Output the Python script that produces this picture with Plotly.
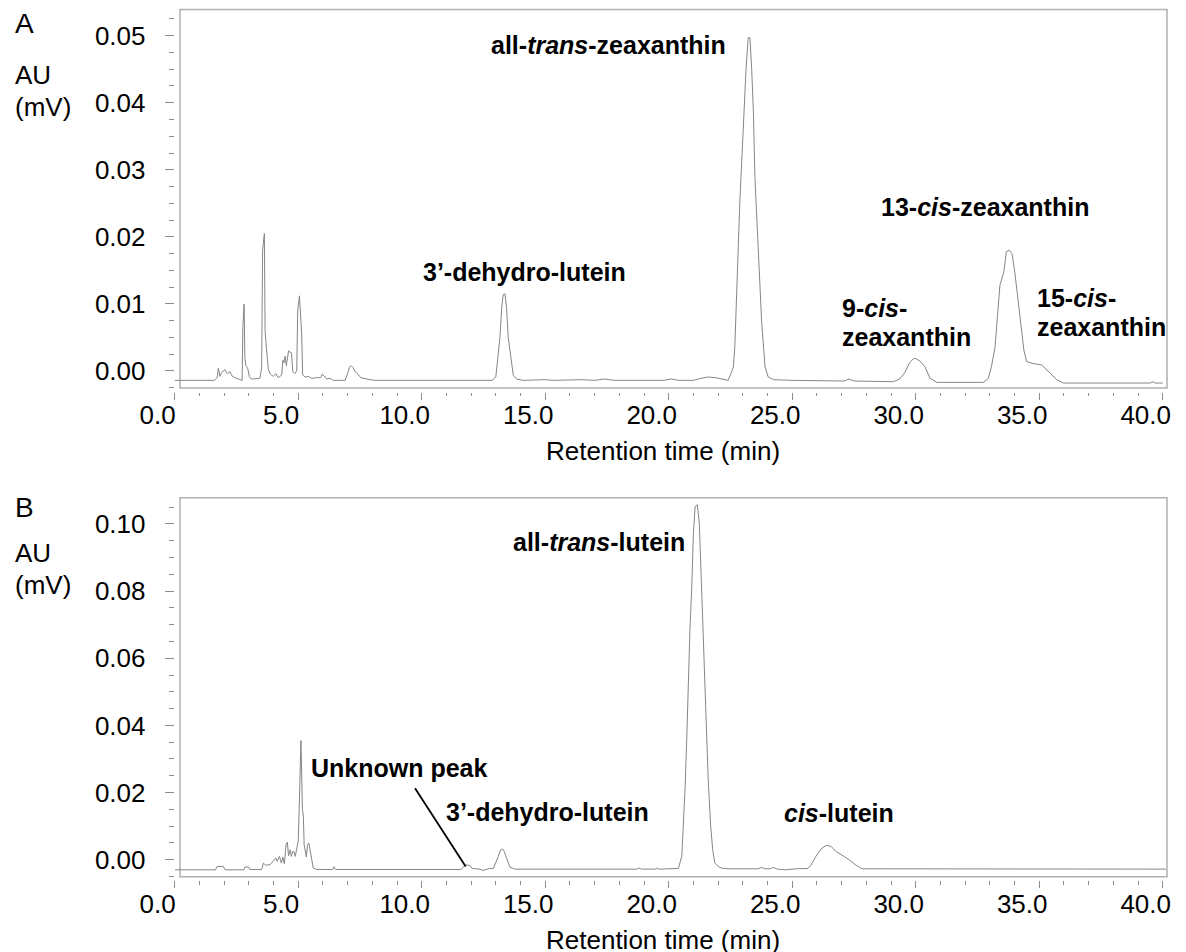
import plotly.graph_objects as go

# browser page adds an 8 px body margin; the figure is sized to fill the rest of the window
OFF = 8
W, H = 1186 - OFF, 952 - OFF

# ---------------- data ----------------
time_a = [0.0, 1.6, 1.72, 1.77, 1.83, 1.90, 2.04, 2.13, 2.24, 2.31, 2.44, 2.62, 2.73, 2.76, 2.78, 2.81,
          2.84, 2.88, 2.95, 3.02, 3.10, 3.30, 3.45, 3.52, 3.56, 3.63, 3.66, 3.70, 3.74, 3.79, 3.88,
          3.99, 4.10, 4.19, 4.33, 4.38, 4.42, 4.47, 4.52, 4.56, 4.61, 4.67, 4.73, 4.78, 4.86, 4.94,
          4.98, 5.05, 5.10, 5.14, 5.18, 5.28, 5.41, 5.55, 5.75, 5.91, 5.96, 6.04, 6.15, 6.30, 6.42,
          6.90, 7.00, 7.08, 7.14, 7.22, 7.30, 7.43, 7.53, 7.64, 7.91, 8.10, 12.85, 13.00, 13.10,
          13.17, 13.24, 13.30, 13.37, 13.44, 13.50, 13.57, 13.64, 13.71, 13.85, 14.10, 15.00, 15.30,
          16.50, 17.00, 17.40, 17.80, 19.80, 20.10, 20.40, 21.00, 21.30, 21.60, 21.90, 22.20, 22.41,
          22.62, 22.68, 22.75, 22.88, 23.02, 23.13, 23.22, 23.29, 23.36, 23.43, 23.49, 23.63, 23.76,
          23.90, 24.03, 24.24, 25.00, 27.10, 27.30, 27.50, 29.10, 29.35, 29.55, 29.75, 29.90, 29.97,
          30.17, 30.38, 30.58, 30.85, 32.74, 32.94, 33.07, 33.21, 33.30, 33.41, 33.57, 33.67, 33.79,
          33.90, 34.02, 34.11, 34.25, 34.38, 34.49, 34.76, 35.10, 35.37, 35.71, 35.98, 39.50, 39.60,
          39.70, 40.00]
au_a = [-0.0014, -0.0014, -0.0010, 0.0004, -0.0008, -0.0002, 0.0002, -0.0004, -0.0001, -0.0007,
        -0.0010, -0.0012, -0.0014, 0.0065, 0.0090, 0.0100, 0.0020, 0.0008, 0.0005, -0.0008, -0.0012,
        -0.0012, -0.0011, 0.0005, 0.0180, 0.0205, 0.0060, 0.0040, 0.0020, 0.0002, -0.0005, -0.0008,
        -0.0004, -0.0010, -0.0006, 0.0016, 0.0012, 0.0022, 0.0008, 0.0020, 0.0030, 0.0028, 0.0027,
        -0.0001, -0.0004, 0.0000, 0.0090, 0.0112, 0.0070, 0.0055, -0.0006, -0.0009, -0.0008, -0.0011,
        -0.0010, -0.0010, -0.0005, -0.0007, -0.0012, -0.0011, -0.0014, -0.0014, -0.0004, 0.0006,
        0.0008, 0.0005, -0.0001, -0.0005, -0.0010, -0.0011, -0.0013, -0.0014, -0.0014, -0.0009,
        0.0026, 0.0051, 0.0095, 0.0114, 0.0115, 0.0093, 0.0051, 0.0032, 0.0008, -0.0007, -0.0012,
        -0.0014, -0.0013, -0.0014, -0.0013, -0.0014, -0.0012, -0.0014, -0.0014, -0.0012, -0.0014,
        -0.0014, -0.0011, -0.0009, -0.0010, -0.0013, -0.0014, 0.0006, 0.0039, 0.0115, 0.0252, 0.0362,
        0.0450, 0.0497, 0.0497, 0.0450, 0.0385, 0.0290, 0.0189, 0.0075, 0.0006, -0.0009, -0.0013,
        -0.0014, -0.0015, -0.0012, -0.0015, -0.0016, -0.0012, -0.0003, 0.0012, 0.0018, 0.0019, 0.0015,
        0.0006, -0.0011, -0.0017, -0.0017, -0.0011, 0.0007, 0.0035, 0.0078, 0.0128, 0.0148, 0.0178,
        0.0180, 0.0175, 0.0145, 0.0116, 0.0076, 0.0031, 0.0014, 0.0011, 0.0009, -0.0001, -0.0013,
        -0.0018, -0.0018, -0.0016, -0.0018, -0.0018]

time_b = [0.0, 1.65, 1.72, 1.97, 2.04, 2.80, 2.85, 3.00, 3.04, 3.52, 3.59, 3.68, 3.86, 4.02, 4.10,
          4.15, 4.24, 4.32, 4.38, 4.44, 4.51, 4.56, 4.61, 4.67, 4.72, 4.78, 4.83, 4.88, 4.94, 5.00,
          5.04, 5.07, 5.11, 5.15, 5.17, 5.21, 5.24, 5.33, 5.38, 5.43, 5.48, 5.55, 5.61, 5.75, 6.40,
          6.45, 6.52, 11.60, 11.69, 11.82, 11.96, 12.05, 12.36, 12.49, 12.63, 12.74, 12.90, 13.00,
          13.10, 13.20, 13.28, 13.34, 13.41, 13.50, 13.57, 13.77, 18.70, 18.81, 18.90, 19.45, 19.52,
          19.60, 20.39, 20.53, 20.59, 20.66, 20.73, 20.79, 20.86, 20.93, 21.00, 21.07, 21.16, 21.24,
          21.31, 21.38, 21.44, 21.51, 21.60, 21.70, 21.78, 21.87, 22.01, 22.14, 22.40, 23.60, 23.76,
          23.90, 24.10, 24.24, 24.40, 24.75, 25.15, 25.63, 25.76, 25.96, 26.17, 26.37, 26.57, 26.77,
          27.04, 27.31, 27.58, 27.83, 40.13]
au_b = [-0.0030, -0.0030, -0.0020, -0.0020, -0.0030, -0.0030, -0.0021, -0.0022, -0.0029, -0.0029,
        -0.0010, -0.0016, -0.0015, 0.0000, 0.0005, -0.0005, 0.0010, -0.0010, 0.0008, -0.0012, 0.0045,
        0.0052, 0.0012, 0.0030, 0.0010, 0.0025, 0.0024, 0.0010, 0.0040, 0.0055, 0.0150, 0.0290,
        0.0355, 0.0220, 0.0150, 0.0130, 0.0045, 0.0008, 0.0045, 0.0050, 0.0030, 0.0010, -0.0025,
        -0.0029, -0.0029, -0.0021, -0.0029, -0.0029, -0.0020, -0.0015, -0.0018, -0.0026, -0.0028,
        -0.0032, -0.0029, -0.0026, -0.0026, -0.0010, 0.0010, 0.0030, 0.0032, 0.0025, 0.0010, -0.0005,
        -0.0022, -0.0028, -0.0028, -0.0025, -0.0028, -0.0028, -0.0025, -0.0028, -0.0026, 0.0010,
        0.0089, 0.0208, 0.0357, 0.0516, 0.0685, 0.0804, 0.0972, 0.1052, 0.1057, 0.1002, 0.0853,
        0.0704, 0.0585, 0.0427, 0.0238, 0.0100, 0.0030, -0.0010, -0.0020, -0.0025, -0.0027, -0.0027,
        -0.0023, -0.0027, -0.0027, -0.0023, -0.0028, -0.0030, -0.0027, -0.0026, -0.0016, 0.0010,
        0.0032, 0.0043, 0.0040, 0.0025, 0.0012, 0.0000, -0.0016, -0.0027, -0.0028]

x_ticks = [0, 5, 10, 15, 20, 25, 30, 35, 40]
x_tick_labels = ["0.0", "5.0", "10.0", "15.0", "20.0", "25.0", "30.0", "35.0", "40.0"]
ya_ticks = [0.00, 0.01, 0.02, 0.03, 0.04, 0.05]
ya_tick_labels = ["0.00", "0.01", "0.02", "0.03", "0.04", "0.05"]
yb_ticks = [0.00, 0.02, 0.04, 0.06, 0.08, 0.10]
yb_tick_labels = ["0.00", "0.02", "0.04", "0.06", "0.08", "0.10"]

# ---------------- helpers: window pixel -> paper ----------------
def px(x):
    return (x - OFF) / W

def py(y):
    return 1 - (y - OFF) / H

FONT = "Arial, Liberation Sans, sans-serif"
LINE_COL = "#858585"
TICK_COL = "#8c8c8c"
BOX_COL = "#b0b0b0"
TXT = 26

fig = go.Figure()
fig.add_trace(go.Scatter(x=time_a, y=au_a, mode="lines", xaxis="x", yaxis="y",
                         line=dict(color=LINE_COL, width=1), showlegend=False, hoverinfo="x+y"))
fig.add_trace(go.Scatter(x=time_b, y=au_b, mode="lines", xaxis="x2", yaxis="y2",
                         line=dict(color=LINE_COL, width=1), showlegend=False, hoverinfo="x+y"))

x_dom = [px(174.7), px(1167)]
x_rng = [0, (1167 - 174.7) / 24.7]

common_x = dict(
    domain=x_dom, range=x_rng, showgrid=False, zeroline=False, showline=False, automargin=False,
    tickmode="array", tickvals=x_ticks, ticktext=x_tick_labels,
    ticks="outside", ticklen=7, tickwidth=1, tickcolor=TICK_COL,
    minor=dict(dtick=1, tick0=0, ticks="outside", ticklen=3.5, tickwidth=1, tickcolor=TICK_COL, showgrid=False),
    tickfont=dict(family=FONT, size=TXT, color="black"),
    ticklabelshift=-17, ticklabelstandoff=-7,
    anchor="free",
)
common_y = dict(
    showgrid=False, zeroline=False, showline=False, automargin=False,
    ticks="outside", ticklen=9, tickwidth=1, tickcolor=TICK_COL,
    tickfont=dict(family=FONT, size=TXT, color="black"),
    ticklabelstandoff=14,
)

fig.update_layout(
    width=W, height=H, autosize=False,
    margin=dict(l=0, r=0, t=0, b=0, pad=0, autoexpand=False),
    paper_bgcolor="white", plot_bgcolor="white",
    xaxis=dict(**common_x, position=py(391.7)),
    xaxis2=dict(**common_x, position=py(880.4)),
    yaxis=dict(**common_y, anchor="x", domain=[py(388), py(9.5)], range=[-0.00254, 0.0539],
               tickmode="array", tickvals=ya_ticks, ticktext=ya_tick_labels,
               minor=dict(dtick=0.0025, tick0=0, ticks="outside", ticklen=4.5, tickwidth=1,
                          tickcolor=TICK_COL, showgrid=False)),
    yaxis2=dict(**common_y, anchor="x2", domain=[py(876.7), py(497.7)], range=[-0.00505, 0.1078],
                tickmode="array", tickvals=yb_ticks, ticktext=yb_tick_labels,
                minor=dict(dtick=0.005, tick0=0, ticks="outside", ticklen=4.5, tickwidth=1,
                           tickcolor=TICK_COL, showgrid=False)),
)

# frames around plotting areas
for (x0, y0, x1, y1) in [(180, 9.5, 1167, 388), (180, 497.7, 1167, 876.7)]:
    fig.add_shape(type="rect", xref="paper", yref="paper", x0=px(x0), x1=px(x1), y0=py(y1), y1=py(y0),
                  line=dict(color=BOX_COL, width=1.5), fillcolor="rgba(0,0,0,0)", layer="below")

# leader line for the unknown peak
fig.add_shape(type="line", xref="x2", yref="y2", x0=9.73, y0=0.0213, x1=11.78, y1=-0.0020,
              line=dict(color="black", width=1.8))

def label(text, xc, yc, size=25, xanchor="center", bold=True):
    t = f"<b>{text}</b>" if bold else text
    fig.add_annotation(x=px(xc), y=py(yc), xref="paper", yref="paper", text=t, showarrow=False,
                       xanchor=xanchor, yanchor="middle",
                       font=dict(family=FONT, size=size, color="black"))

# panel A labels
label("all-<i>trans</i>-zeaxanthin", 608.7, 45)
label("3\u2019-dehydro-lutein", 524.2, 272)
label("13-<i>cis</i>-zeaxanthin", 985, 207)
label("9-<i>cis</i>-", 840, 308, xanchor="left")
label("zeaxanthin", 840, 337, xanchor="left")
label("15-<i>cis</i>-", 1035, 298, xanchor="left")
label("zeaxanthin", 1035, 327, xanchor="left")

# panel B labels
label("all-<i>trans</i>-lutein", 599, 542)
label("Unknown peak", 399, 768)
label("3\u2019-dehydro-lutein", 547.5, 812)
label("<i>cis</i>-lutein", 839, 813)

# panel letters, y-axis captions, x-axis titles
label("A", 13, 23, size=28, xanchor="left", bold=False)
label("B", 13, 507, size=28, xanchor="left", bold=False)
for base in (0, 478):
    label("AU", 13, 75 + base, size=TXT, xanchor="left", bold=False)
    label("(mV)", 13, 107 + base, size=TXT, xanchor="left", bold=False)
label("Retention time (min)", 663, 451, size=TXT, bold=False)
label("Retention time (min)", 663, 940, size=TXT, bold=False)

fig.write_html("out.html")
